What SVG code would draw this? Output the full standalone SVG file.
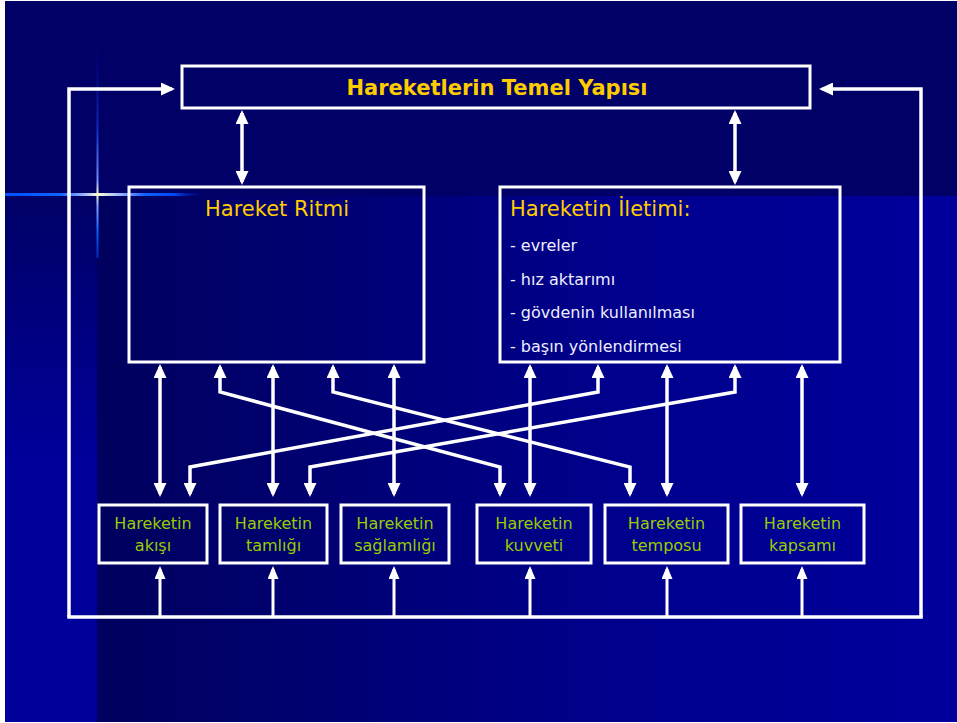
<svg xmlns="http://www.w3.org/2000/svg" width="957" height="723" viewBox="0 0 957 723">
<defs>
<linearGradient id="bgR" x1="97" y1="0" x2="957" y2="0" gradientUnits="userSpaceOnUse">
<stop offset="0" stop-color="#00005e"/>
<stop offset="0.6" stop-color="#00008c"/>
<stop offset="1" stop-color="#00009c"/>
</linearGradient>
<linearGradient id="bgL" x1="0" y1="196" x2="0" y2="460" gradientUnits="userSpaceOnUse">
<stop offset="0" stop-color="#000066"/>
<stop offset="1" stop-color="#00009a"/>
</linearGradient>
<linearGradient id="flH" x1="5" y1="0" x2="205" y2="0" gradientUnits="userSpaceOnUse">
<stop offset="0" stop-color="#0050ff"/>
<stop offset="0.28" stop-color="#1464ff"/>
<stop offset="0.4" stop-color="#a0b8ff"/>
<stop offset="0.465" stop-color="#ffffd0"/>
<stop offset="0.56" stop-color="#a8bcff"/>
<stop offset="0.7" stop-color="#1060ff"/>
<stop offset="0.85" stop-color="#0048f0"/>
<stop offset="1" stop-color="#000088" stop-opacity="0"/>
</linearGradient>
<linearGradient id="flV" x1="0" y1="30" x2="0" y2="258" gradientUnits="userSpaceOnUse">
<stop offset="0" stop-color="#000088" stop-opacity="0"/>
<stop offset="0.45" stop-color="#1030c0"/>
<stop offset="0.66" stop-color="#7090ff"/>
<stop offset="0.72" stop-color="#ffffd0"/>
<stop offset="0.77" stop-color="#8aa0ff"/>
<stop offset="0.88" stop-color="#1060ff"/>
<stop offset="1" stop-color="#0050ff" stop-opacity="0.5"/>
</linearGradient>
<marker id="ah" viewBox="0 0 14 13" refX="11" refY="6.5" markerWidth="14" markerHeight="13" markerUnits="userSpaceOnUse" orient="auto-start-reverse">
<path d="M0,0 L14,6.5 L0,13 z" fill="#ffffff"/>
</marker>
<marker id="ahs" viewBox="0 0 13 11" refX="10" refY="5.5" markerWidth="13" markerHeight="11" markerUnits="userSpaceOnUse" orient="auto-start-reverse">
<path d="M0,0 L13,5.5 L0,11 z" fill="#ffffff"/>
</marker>
<style>
.box{fill:none;stroke:#ffffff;stroke-width:3}
.ln{fill:none;stroke:#ffffff;stroke-width:3.5;stroke-linejoin:miter}
.dbl{fill:none;stroke:#ffffff;stroke-width:3.5;marker-start:url(#ah);marker-end:url(#ah)}
.up{fill:none;stroke:#ffffff;stroke-width:3;marker-end:url(#ahs)}
.title{font-family:"DejaVu Sans","Liberation Sans",sans-serif;font-size:21px;fill:#ffcc00}
.tb{font-weight:bold}
.item{font-family:"DejaVu Sans","Liberation Sans",sans-serif;font-size:16px;fill:#eeeeff}
.lbl{font-family:"DejaVu Sans","Liberation Sans",sans-serif;font-size:16px;fill:#99cc00;text-anchor:middle}
</style>
</defs>

<rect x="0" y="0" width="957" height="723" fill="#ffffff"/>
<rect x="5" y="1" width="952" height="721" fill="url(#bgR)"/>
<rect x="5" y="196" width="92" height="526" fill="url(#bgL)"/>
<rect x="5" y="1" width="952" height="195" fill="#000066"/>
<rect x="5" y="193" width="200" height="3" fill="url(#flH)"/>
<rect x="96.5" y="30" width="2" height="228" fill="url(#flV)"/>

<g id="connectors">
<polyline class="ln" points="69,617 69,89 172,89" marker-end="url(#ah)"/>
<polyline class="ln" points="921,617 921,89 822,89" marker-end="url(#ah)"/>
<line class="ln" x1="67.25" y1="617" x2="922.75" y2="617"/>
<line class="dbl" x1="242" y1="113" x2="242" y2="182"/>
<line class="dbl" x1="735" y1="113" x2="735" y2="182"/>
<line class="dbl" x1="160" y1="367" x2="160" y2="494"/>
<line class="dbl" x1="273" y1="367" x2="273" y2="494"/>
<line class="dbl" x1="394" y1="367" x2="394" y2="494"/>
<line class="dbl" x1="530" y1="367" x2="530" y2="494"/>
<line class="dbl" x1="667" y1="367" x2="667" y2="494"/>
<line class="dbl" x1="802" y1="367" x2="802" y2="494"/>
<polyline class="dbl" points="220,367 220,392 500,467 500,494"/>
<polyline class="dbl" points="333,367 333,392 630,467 630,494"/>
<polyline class="dbl" points="598,367 598,392 190,467 190,494"/>
<polyline class="dbl" points="735,367 735,392 310,467 310,494"/>
<line class="up" x1="160" y1="617" x2="160" y2="569"/>
<line class="up" x1="273" y1="617" x2="273" y2="569"/>
<line class="up" x1="394" y1="617" x2="394" y2="569"/>
<line class="up" x1="530" y1="617" x2="530" y2="569"/>
<line class="up" x1="667" y1="617" x2="667" y2="569"/>
<line class="up" x1="802" y1="617" x2="802" y2="569"/>
</g>

<g id="temel">
<rect class="box" x="182" y="66" width="628" height="42"/>
<text class="title tb" x="497" y="95" text-anchor="middle">Hareketlerin Temel Yapısı</text>
</g>
<g id="ritim">
<rect class="box" x="129" y="187" width="295" height="175"/>
<text class="title" x="277" y="216" text-anchor="middle">Hareket Ritmi</text>
</g>
<g id="iletim">
<rect class="box" x="500" y="187" width="340" height="175"/>
<text class="title" x="510" y="216">Hareketin İletimi:</text>
<text class="item" x="510" y="251">- evreler</text>
<text class="item" x="510" y="285">- hız aktarımı</text>
<text class="item" x="510" y="318">- gövdenin kullanılması</text>
<text class="item" x="510" y="352">- başın yönlendirmesi</text>
</g>
<g id="akis">
<rect class="box" x="99" y="505" width="108" height="58"/>
<text class="lbl" x="153" y="529">Hareketin</text>
<text class="lbl" x="153" y="551">akışı</text>
</g>
<g id="tamlik">
<rect class="box" x="220" y="505" width="107" height="58"/>
<text class="lbl" x="273.5" y="529">Hareketin</text>
<text class="lbl" x="273.5" y="551">tamlığı</text>
</g>
<g id="saglamlik">
<rect class="box" x="341" y="505" width="108" height="58"/>
<text class="lbl" x="395" y="529">Hareketin</text>
<text class="lbl" x="395" y="551">sağlamlığı</text>
</g>
<g id="kuvvet">
<rect class="box" x="477" y="505" width="114" height="58"/>
<text class="lbl" x="534" y="529">Hareketin</text>
<text class="lbl" x="534" y="551">kuvveti</text>
</g>
<g id="tempo">
<rect class="box" x="605" y="505" width="123" height="58"/>
<text class="lbl" x="666.5" y="529">Hareketin</text>
<text class="lbl" x="666.5" y="551">temposu</text>
</g>
<g id="kapsam">
<rect class="box" x="741" y="505" width="123" height="58"/>
<text class="lbl" x="802.5" y="529">Hareketin</text>
<text class="lbl" x="802.5" y="551">kapsamı</text>
</g>
</svg>
